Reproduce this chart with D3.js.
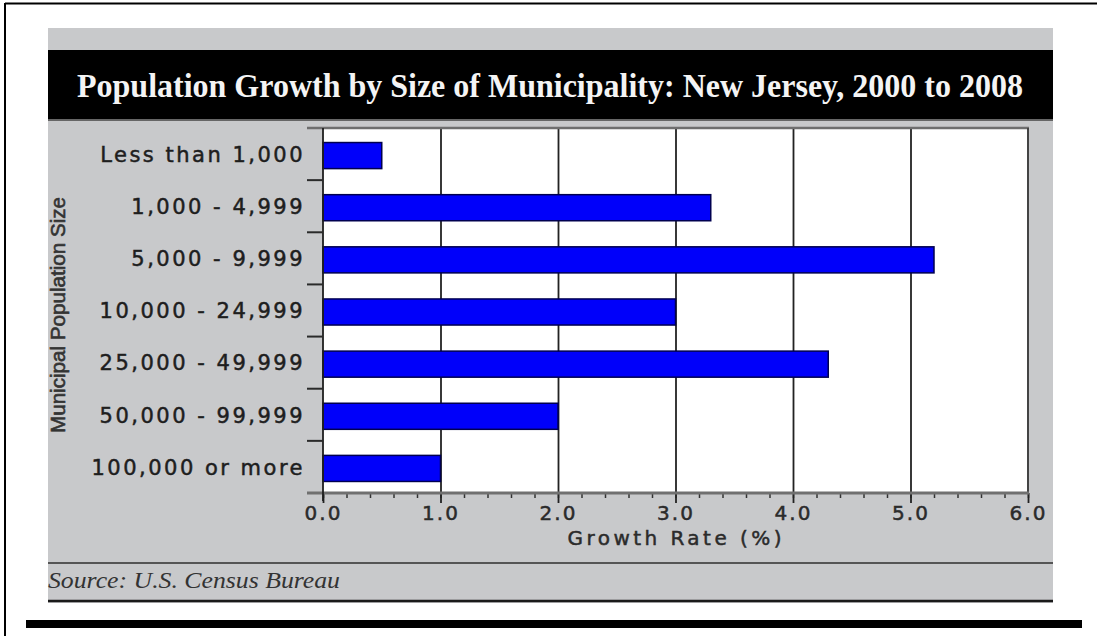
<!DOCTYPE html>
<html>
<head>
<meta charset="utf-8">
<script src="https://cdn.jsdelivr.net/npm/d3@7"></script>
<style>
  html, body { margin: 0; padding: 0; background: #fff; }
  svg { display: block; }
</style>
</head>
<body>
<svg id="chart" width="1097" height="636"></svg>
<script>
// ---- data ----
const titleText = "Population Growth by Size of Municipality: New Jersey, 2000 to 2008";
const categories = ["Less than 1,000", "1,000 - 4,999", "5,000 - 9,999", "10,000 - 24,999",
                    "25,000 - 49,999", "50,000 - 99,999", "100,000 or more"];
const growthRate = [0.5, 3.3, 5.2, 3.0, 4.3, 2.0, 1.0];
const xTickValues = [0, 1, 2, 3, 4, 5, 6];
const xAxisTitle = "Growth Rate (%)";
const yAxisTitle = "Municipal Population Size";
const sourceText = "Source: U.S. Census Bureau";

// ---- layout ----
const svg = d3.select("#chart");
const plot = { left: 323, right: 1028, top: 128, bottom: 493 };
const sans = "'DejaVu Sans', Verdana, sans-serif";

// outer frame
svg.append("line").attr("x1", 5).attr("x2", 1097).attr("y1", 3.5).attr("y2", 3.5)
  .attr("stroke", "#000").attr("stroke-width", 2);
svg.append("line").attr("x1", 5).attr("x2", 5).attr("y1", 3).attr("y2", 636)
  .attr("stroke", "#000").attr("stroke-width", 2);

// gray panel
svg.append("rect").attr("x", 48).attr("y", 28).attr("width", 1005).attr("height", 575)
  .attr("fill", "#c8c9cb");

// title band
svg.append("rect").attr("x", 48).attr("y", 50).attr("width", 1005).attr("height", 70)
  .attr("fill", "#000");
svg.append("line").attr("x1", 48).attr("x2", 1053).attr("y1", 120).attr("y2", 120)
  .attr("stroke", "#666").attr("stroke-width", 2);
svg.append("text").attr("x", 77).attr("y", 97)
  .attr("font-family", "'Liberation Serif', 'Times New Roman', serif")
  .attr("font-weight", "bold").attr("font-size", 34).attr("fill", "#f4f4f4")
  .attr("textLength", 946).attr("lengthAdjust", "spacingAndGlyphs")
  .text(titleText);

// scales
const x = d3.scaleLinear().domain([0, 6]).range([plot.left, plot.right]);
const y = d3.scaleBand().domain(categories).range([plot.top, plot.bottom])
  .paddingInner(0.5).paddingOuter(0.25);

// plot background
svg.append("rect").attr("x", plot.left).attr("y", plot.top)
  .attr("width", plot.right - plot.left).attr("height", plot.bottom - plot.top)
  .attr("fill", "#fff");

// vertical gridlines
const grid = svg.append("g").attr("transform", `translate(0,${plot.bottom})`)
  .call(d3.axisBottom(x).tickValues(xTickValues.slice(1, -1)).tickSize(-(plot.bottom - plot.top)).tickFormat(""));
grid.select(".domain").remove();
grid.selectAll(".tick line").attr("stroke", "#222").attr("stroke-width", 1.8);

// bars
svg.append("g").selectAll("rect").data(categories).join("rect")
  .attr("x", x(0))
  .attr("y", d => y(d) + 1.5)
  .attr("width", (d, i) => x(growthRate[i]) - x(0))
  .attr("height", y.bandwidth())
  .attr("fill", "#0000fa")
  .attr("stroke", "#000050").attr("stroke-width", 1.5);

// plot frame: top & right border
svg.append("line").attr("x1", 307).attr("x2", plot.right + 1).attr("y1", plot.top).attr("y2", plot.top)
  .attr("stroke", "#6e6e6e").attr("stroke-width", 2.5);
svg.append("line").attr("x1", plot.right).attr("x2", plot.right).attr("y1", plot.top).attr("y2", plot.bottom)
  .attr("stroke", "#444").attr("stroke-width", 2);

// minor ticks on x axis
const minor = svg.append("g").attr("transform", `translate(0,${plot.bottom})`)
  .call(d3.axisBottom(x).ticks(30).tickSize(5).tickFormat(""));
minor.select(".domain").remove();
minor.selectAll(".tick line").attr("stroke", "#333").attr("stroke-width", 1.5);

// major ticks + labels on x axis
const xAxis = svg.append("g").attr("transform", `translate(0,${plot.bottom})`)
  .call(d3.axisBottom(x).tickValues(xTickValues).tickSize(10).tickPadding(3).tickFormat(d3.format(".1f")));
xAxis.select(".domain").remove();
xAxis.selectAll(".tick line").attr("stroke", "#222").attr("stroke-width", 1.8);
xAxis.selectAll(".tick text")
  .attr("font-family", sans)
  .attr("font-size", 20).attr("fill", "#2b2b2b")
  .attr("stroke", "#2b2b2b").attr("stroke-width", 0.5)
  .style("letter-spacing", "2px");

// x axis baseline
svg.append("line").attr("x1", 307).attr("x2", plot.right + 1).attr("y1", plot.bottom).attr("y2", plot.bottom)
  .attr("stroke", "#707070").attr("stroke-width", 3);

// left plot line (y axis)
svg.append("line").attr("x1", plot.left).attr("x2", plot.left).attr("y1", plot.top).attr("y2", plot.bottom + 8)
  .attr("stroke", "#1e1e1e").attr("stroke-width", 1.8);

// y-axis category labels
const yAxis = svg.append("g").attr("transform", `translate(${plot.left},1)`)
  .call(d3.axisLeft(y).tickSize(0).tickPadding(18));
yAxis.select(".domain").remove();
yAxis.selectAll(".tick text")
  .attr("font-family", sans)
  .attr("font-size", 21).attr("fill", "#1e1e1e")
  .attr("stroke", "#1e1e1e").attr("stroke-width", 0.5)
  .style("letter-spacing", "2.5px");

// y boundary ticks between categories
const bounds = categories.slice(1).map((d, i) => plot.top + (i + 1) * (plot.bottom - plot.top) / categories.length);
svg.append("g").selectAll("line").data(bounds).join("line")
  .attr("x1", 307).attr("x2", plot.left).attr("y1", d => d).attr("y2", d => d)
  .attr("stroke", "#2a2a2a").attr("stroke-width", 2);

// axis titles
svg.append("text").attr("x", x(3) - 1).attr("y", 545).attr("text-anchor", "middle")
  .attr("font-family", sans)
  .attr("font-size", 20).attr("fill", "#2b2b2b")
  .attr("stroke", "#2b2b2b").attr("stroke-width", 0.5)
  .attr("textLength", 214).attr("lengthAdjust", "spacing")
  .text(xAxisTitle);

svg.append("text")
  .attr("transform", "translate(65,315) rotate(-90)")
  .attr("text-anchor", "middle")
  .attr("font-family", "'Liberation Sans', Arial, sans-serif")
  .attr("font-size", 21).attr("fill", "#333")
  .attr("stroke", "#333").attr("stroke-width", 0.6)
  .attr("textLength", 236).attr("lengthAdjust", "spacingAndGlyphs")
  .text(yAxisTitle);

// source area
svg.append("line").attr("x1", 48).attr("x2", 1053).attr("y1", 563).attr("y2", 563)
  .attr("stroke", "#555").attr("stroke-width", 2);
svg.append("line").attr("x1", 48).attr("x2", 1053).attr("y1", 601).attr("y2", 601)
  .attr("stroke", "#1a1a1a").attr("stroke-width", 2.5);
svg.append("text").attr("x", 48).attr("y", 588)
  .attr("font-family", "'Liberation Serif', 'Times New Roman', serif")
  .attr("font-style", "italic").attr("font-size", 24).attr("fill", "#333")
  .attr("textLength", 292).attr("lengthAdjust", "spacingAndGlyphs")
  .text(sourceText);

// thick bottom rule
svg.append("rect").attr("x", 26).attr("y", 620).attr("width", 1056).attr("height", 8)
  .attr("fill", "#000");
</script>
</body>
</html>
